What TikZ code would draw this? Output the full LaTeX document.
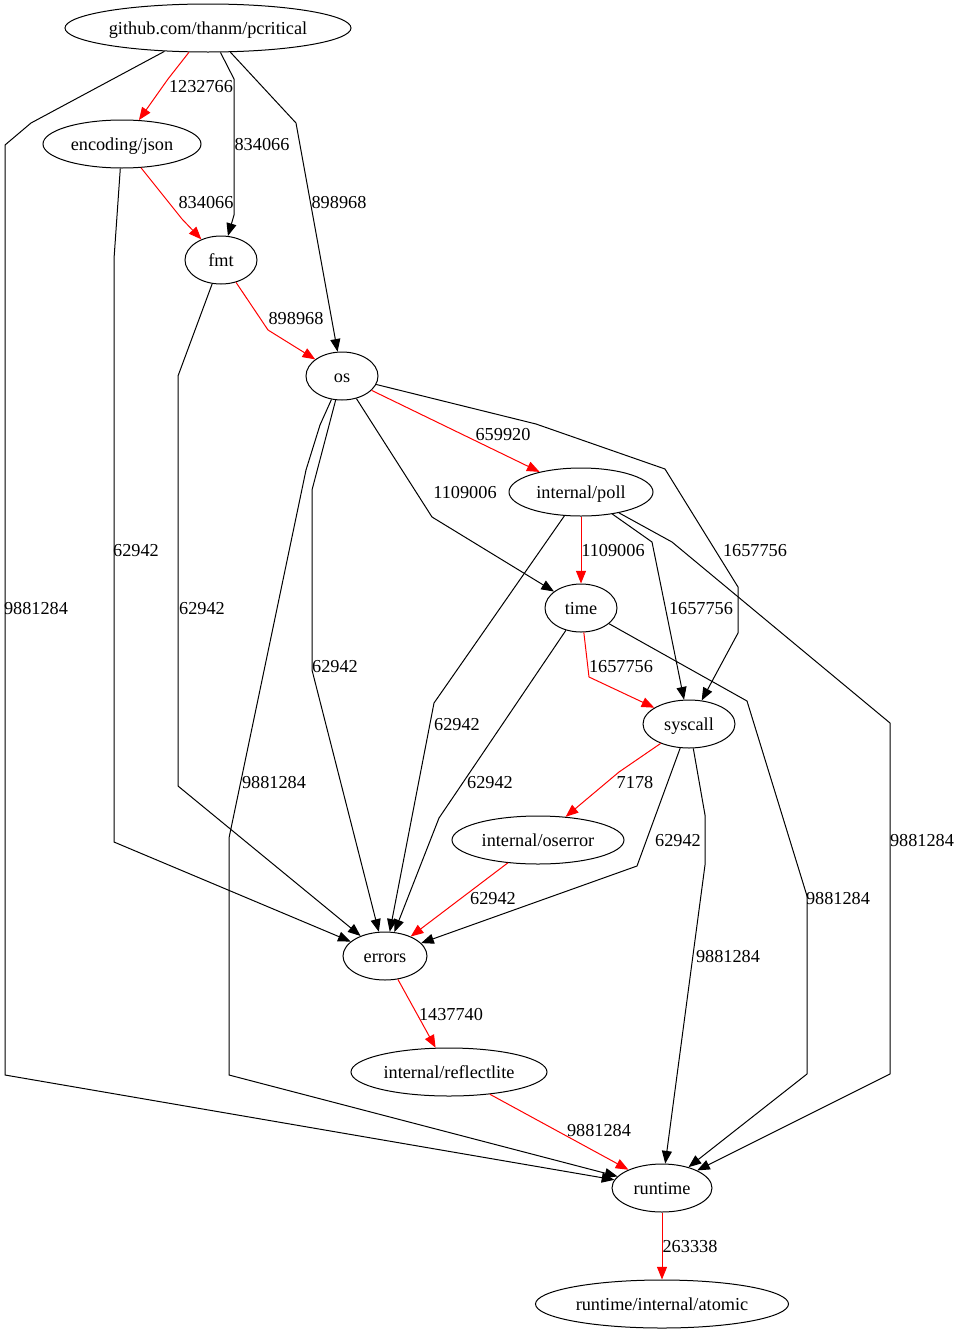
\documentclass[tikz,border=0pt]{standalone}
\usepackage{fontspec}
\setmainfont{Liberation Serif}
\usetikzlibrary{shapes.geometric,arrows.meta}
\begin{document}
\begin{tikzpicture}[x=0.75pt,y=-0.75pt,
  nd/.style={draw, ellipse, line width=0.75pt, inner sep=0pt, minimum height=36pt, text height=12pt, text depth=3pt, font=\fontsize{13.7}{16}\selectfont},
  lbl/.style={inner sep=0pt, text height=12pt, text depth=3pt, font=\fontsize{13.7}{16}\selectfont},
  ed/.style={draw, line width=0.75pt, line join=round, -{Triangle[length=9.5pt,width=7.5pt]}},
  hot/.style={ed, red}]
\useasboundingbox (0,0) rectangle (960,1335);
% nodes
\node[nd, minimum width=214.5pt] (pc) at (208,28) {github.com/thanm/pcritical};
\node[nd, minimum width=118.5pt] (json) at (122,144) {encoding/json};
\node[nd, minimum width=54pt] (fmt) at (221,260) {fmt};
\node[nd, minimum width=54pt] (os) at (342,376) {os};
\node[nd, minimum width=108pt] (poll) at (581,492) {internal/poll};
\node[nd, minimum width=54pt] (time) at (581,608) {time};
\node[nd, minimum width=69pt] (sys) at (689,724) {syscall};
\node[nd, minimum width=129pt] (ose) at (538,840) {internal/oserror};
\node[nd, minimum width=63pt] (err) at (385,956) {errors};
\node[nd, minimum width=147pt] (ref) at (449,1072) {internal/reflectlite};
\node[nd, minimum width=75pt] (rt) at (662,1188) {runtime};
\node[nd, minimum width=189.75pt] (atom) at (662,1304) {runtime/internal/atomic};
% edges
\draw[hot] (pc) -- (168,79) -- (json);
\draw[ed] (pc) -- (234,79) -- (234,215) -- (fmt);
\draw[ed] (pc) -- (296,123) -- (os);
\draw[ed] (pc) -- (31,123) -- (5,145) -- (5,1075) -- (rt);
\draw[hot] (json) -- (182,219) -- (fmt);
\draw[ed] (json) -- (114,259) -- (114,842) -- (err);
\draw[hot] (fmt) -- (268,330) -- (os);
\draw[ed] (fmt) -- (178,376) -- (178,786) -- (err);
\draw[hot] (os) -- (poll);
\draw[ed] (os) -- (432,517) -- (time);
\draw[ed] (os) -- (536,424) -- (665,469) -- (738,587) -- (738,633) -- (sys);
\draw[ed] (os) -- (312,490) -- (312,670) -- (err);
\draw[ed] (os) -- (320,425) -- (306,470) -- (229,838) -- (229,1075) -- (rt);
\draw[hot] (poll) -- (time);
\draw[ed] (poll) -- (652,542) -- (sys);
\draw[ed] (poll) -- (672,542) -- (890,723) -- (890,1074) -- (rt);
\draw[ed] (poll) -- (434,703) -- (err);
\draw[hot] (time) -- (589,677) -- (sys);
\draw[ed] (time) -- (439,818) -- (err);
\draw[ed] (time) -- (747,701) -- (807,896) -- (807,1074) -- (rt);
\draw[hot] (sys) -- (619,772) -- (ose);
\draw[ed] (sys) -- (637,866) -- (err);
\draw[ed] (sys) -- (705,815) -- (705,865) -- (rt);
\draw[hot] (ose) -- (err);
\draw[hot] (err) -- (ref);
\draw[hot] (ref) -- (rt);
\draw[hot] (rt) -- (atom);
% labels
\node[lbl] (l1) at (201,86) {1232766};
\node[lbl] (l2) at (262,144) {834066};
\node[lbl] (l3) at (339,202) {898968};
\node[lbl] (l4) at (36,608) {9881284};
\node[lbl] (l5) at (206,202) {834066};
\node[lbl] (l6) at (136,550) {62942};
\node[lbl] (l7) at (296,318) {898968};
\node[lbl] (l8) at (202,608) {62942};
\node[lbl] (l9) at (503,434) {659920};
\node[lbl] (l10) at (465,492) {1109006};
\node[lbl] (l11) at (755,550) {1657756};
\node[lbl] (l12) at (335,666) {62942};
\node[lbl] (l13) at (274,782) {9881284};
\node[lbl] (l14) at (613,550) {1109006};
\node[lbl] (l15) at (701,608) {1657756};
\node[lbl] (l16) at (922,840) {9881284};
\node[lbl] (l17) at (457,724) {62942};
\node[lbl] (l18) at (621,666) {1657756};
\node[lbl] (l19) at (490,782) {62942};
\node[lbl] (l20) at (838,898) {9881284};
\node[lbl] (l21) at (635,782) {7178};
\node[lbl] (l22) at (678,840) {62942};
\node[lbl] (l23) at (728,956) {9881284};
\node[lbl] (l24) at (493,898) {62942};
\node[lbl] (l25) at (451,1014) {1437740};
\node[lbl] (l26) at (599,1130) {9881284};
\node[lbl] (l27) at (690,1246) {263338};
\end{tikzpicture}
\end{document}
